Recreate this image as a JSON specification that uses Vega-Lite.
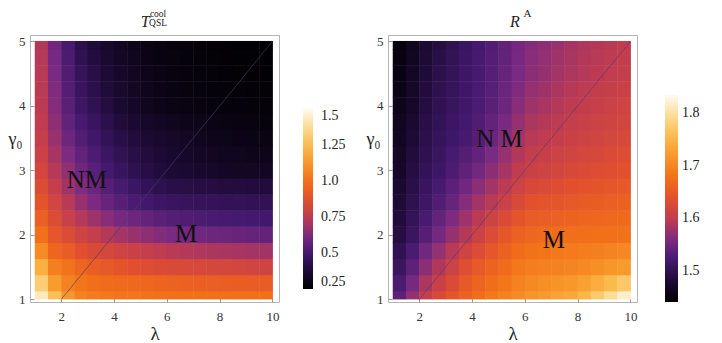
{
  "$schema": "https://vega.github.io/schema/vega-lite/v6.json",
  "background": "white",
  "padding": {"left": 7, "top": 7, "right": 0, "bottom": 0},
  "bounds": "flush",
  "spacing": 109,
  "config": {
    "font": "Liberation Serif",
    "view": {"stroke": "#b4b4b4", "strokeWidth": 1},
    "axis": {"domain": false, "grid": false, "labelFont": "Liberation Serif", "labelFontSize": 13, "labelColor": "#333333", "tickColor": "#9a9a9a", "tickSize": -4, "titleFont": "Liberation Serif", "titleFontWeight": "normal", "titleColor": "#222222"},
    "legend": {"labelFont": "Liberation Serif", "labelFontSize": 14, "labelColor": "#222222", "padding": 0}
  },
  "datasets": {
    "diag": [{"a": 2, "b": 1, "a2": 10, "b2": 5}],
    "ann": [
      {"p": "T", "kind": "region", "t": "NM", "x": 2.97, "y": 2.73},
      {"p": "T", "kind": "region", "t": "M", "x": 6.73, "y": 1.895},
      {"p": "R", "kind": "region", "t": "N M", "x": 5.04, "y": 3.37},
      {"p": "R", "kind": "region", "t": "M", "x": 7.1, "y": 1.79},
      {"p": "T", "kind": "title", "t": "T", "x": 5.18, "y": 5.23},
      {"p": "T", "kind": "script", "t": "cool", "x": 5.67, "y": 5.385},
      {"p": "T", "kind": "script", "t": "QSL", "x": 5.67, "y": 5.24},
      {"p": "R", "kind": "title", "t": "R", "x": 5.63, "y": 5.23},
      {"p": "R", "kind": "scriptA", "t": "A", "x": 6.1, "y": 5.384}
    ],
    "cells": [
      {"p": "T", "g0": 1, "g1": 1.125, "a": [1,1.5,2,2.5,3,3.5,4,4.5,5,5.5,6,6.5,7,7.5,8,8.5,9,9.5], "b": [1.5,2,2.5,3,3.5,4,4.5,5,5.5,6,6.5,7,7.5,8,8.5,9,9.5,10], "v": [1.43,1.27,1.13,1.06,1.035,1.025,1.018,1.013,1.008,1.003,1.0,1.0,1.0,1.0,1.0,1.0,1.0,1.0]},
      {"p": "T", "g0": 1.125, "g1": 1.375, "a": [1,1.5,2,2.5,3,3.5,4,4.5,5,5.5,6,6.5,7,7.5,8,8.5,9,9.5], "b": [1.5,2,2.5,3,3.5,4,4.5,5,5.5,6,6.5,7,7.5,8,8.5,9,9.5,10], "v": [1.32,1.145,1.055,1.015,0.995,0.985,0.978,0.973,0.965,0.955,0.948,0.943,0.938,0.933,0.929,0.926,0.924,0.921]},
      {"p": "T", "g0": 1.375, "g1": 1.625, "a": [1,1.5,2,2.5,3,3.5,4,4.5,5,5.5,6,6.5,7,7.5,8,8.5,9,9.5], "b": [1.5,2,2.5,3,3.5,4,4.5,5,5.5,6,6.5,7,7.5,8,8.5,9,9.5,10], "v": [1.21,1.05,1.01,0.96,0.93,0.91,0.89,0.87,0.855,0.845,0.838,0.833,0.828,0.823,0.818,0.813,0.808,0.803]},
      {"p": "T", "g0": 1.625, "g1": 1.875, "a": [1,1.5,2,2.5,3,3.5,4,4.5,5,5.5,6,6.5,7,7.5,8,8.5,9,9.5], "b": [1.5,2,2.5,3,3.5,4,4.5,5,5.5,6,6.5,7,7.5,8,8.5,9,9.5,10], "v": [1.085,0.96,0.92,0.87,0.84,0.82,0.8,0.78,0.763,0.748,0.736,0.729,0.721,0.714,0.708,0.703,0.698,0.693]},
      {"p": "T", "g0": 1.875, "g1": 2.125, "a": [1,1.5,2,2.5,3,3.5,4,4.5,5,5.5,6,6.5,7,7.5,8,8.5,9,9.5], "b": [1.5,2,2.5,3,3.5,4,4.5,5,5.5,6,6.5,7,7.5,8,8.5,9,9.5,10], "v": [1.0,0.9,0.85,0.8,0.763,0.728,0.7,0.68,0.66,0.64,0.625,0.615,0.605,0.595,0.588,0.583,0.578,0.573]},
      {"p": "T", "g0": 2.125, "g1": 2.375, "a": [1,1.5,2,2.5,3,3.5,4,4.5,5,5.5,6,6.5,7,7.5,8,8.5,9,9.5], "b": [1.5,2,2.5,3,3.5,4,4.5,5,5.5,6,6.5,7,7.5,8,8.5,9,9.5,10], "v": [0.94,0.85,0.78,0.73,0.69,0.65,0.618,0.593,0.57,0.55,0.536,0.529,0.521,0.514,0.508,0.503,0.498,0.493]},
      {"p": "T", "g0": 2.375, "g1": 2.625, "a": [1,1.5,2,2.5,3,3.5,4,4.5,5,5.5,6,6.5,7,7.5,8,8.5,9,9.5], "b": [1.5,2,2.5,3,3.5,4,4.5,5,5.5,6,6.5,7,7.5,8,8.5,9,9.5,10], "v": [0.89,0.81,0.735,0.675,0.628,0.583,0.545,0.515,0.493,0.478,0.468,0.463,0.458,0.453,0.449,0.446,0.444,0.441]},
      {"p": "T", "g0": 2.625, "g1": 2.875, "a": [1,1.5,2,2.5,3,3.5,4,4.5,5,5.5,6,6.5,7,7.5,8,8.5,9,9.5], "b": [1.5,2,2.5,3,3.5,4,4.5,5,5.5,6,6.5,7,7.5,8,8.5,9,9.5,10], "v": [0.85,0.765,0.695,0.635,0.588,0.543,0.505,0.475,0.45,0.43,0.418,0.413,0.408,0.403,0.399,0.396,0.394,0.391]},
      {"p": "T", "g0": 2.875, "g1": 3.125, "a": [1,1.5,2,2.5,3,3.5,4,4.5,5,5.5,6,6.5,7,7.5,8,8.5,9,9.5], "b": [1.5,2,2.5,3,3.5,4,4.5,5,5.5,6,6.5,7,7.5,8,8.5,9,9.5,10], "v": [0.815,0.73,0.665,0.6,0.548,0.503,0.465,0.435,0.41,0.39,0.375,0.365,0.355,0.345,0.339,0.336,0.334,0.331]},
      {"p": "T", "g0": 3.125, "g1": 3.375, "a": [1,1.5,2,2.5,3,3.5,4,4.5,5,5.5,6,6.5,7,7.5,8,8.5,9,9.5], "b": [1.5,2,2.5,3,3.5,4,4.5,5,5.5,6,6.5,7,7.5,8,8.5,9,9.5,10], "v": [0.788,0.703,0.63,0.568,0.519,0.477,0.442,0.414,0.392,0.374,0.36,0.35,0.34,0.33,0.324,0.32,0.316,0.312]},
      {"p": "T", "g0": 3.375, "g1": 3.625, "a": [1,1.5,2,2.5,3,3.5,4,4.5,5,5.5,6,6.5,7,7.5,8,8.5,9,9.5], "b": [1.5,2,2.5,3,3.5,4,4.5,5,5.5,6,6.5,7,7.5,8,8.5,9,9.5,10], "v": [0.765,0.68,0.595,0.535,0.49,0.45,0.418,0.393,0.373,0.358,0.345,0.335,0.325,0.315,0.308,0.303,0.298,0.293]},
      {"p": "T", "g0": 3.625, "g1": 3.875, "a": [1,1.5,2,2.5,3,3.5,4,4.5,5,5.5,6,6.5,7,7.5,8,8.5,9,9.5], "b": [1.5,2,2.5,3,3.5,4,4.5,5,5.5,6,6.5,7,7.5,8,8.5,9,9.5,10], "v": [0.75,0.66,0.568,0.508,0.465,0.425,0.393,0.368,0.348,0.333,0.322,0.314,0.307,0.299,0.294,0.29,0.286,0.282]},
      {"p": "T", "g0": 3.875, "g1": 4.125, "a": [1,1.5,2,2.5,3,3.5,4,4.5,5,5.5,6,6.5,7,7.5,8,8.5,9,9.5], "b": [1.5,2,2.5,3,3.5,4,4.5,5,5.5,6,6.5,7,7.5,8,8.5,9,9.5,10], "v": [0.745,0.645,0.55,0.48,0.44,0.4,0.368,0.343,0.323,0.308,0.298,0.293,0.288,0.283,0.279,0.276,0.274,0.271]},
      {"p": "T", "g0": 4.125, "g1": 4.375, "a": [1,1.5,2,2.5,3,3.5,4,4.5,5,5.5,6,6.5,7,7.5,8,8.5,9,9.5], "b": [1.5,2,2.5,3,3.5,4,4.5,5,5.5,6,6.5,7,7.5,8,8.5,9,9.5,10], "v": [0.74,0.635,0.54,0.468,0.427,0.389,0.359,0.337,0.318,0.303,0.293,0.288,0.283,0.278,0.274,0.271,0.269,0.266]},
      {"p": "T", "g0": 4.375, "g1": 4.625, "a": [1,1.5,2,2.5,3,3.5,4,4.5,5,5.5,6,6.5,7,7.5,8,8.5,9,9.5], "b": [1.5,2,2.5,3,3.5,4,4.5,5,5.5,6,6.5,7,7.5,8,8.5,9,9.5,10], "v": [0.735,0.625,0.53,0.455,0.413,0.378,0.35,0.33,0.313,0.298,0.288,0.283,0.278,0.273,0.269,0.266,0.264,0.261]},
      {"p": "T", "g0": 4.625, "g1": 4.875, "a": [1,1.5,2,2.5,3,3.5,4,4.5,5,5.5,6,6.5,7,7.5,8,8.5,9,9.5], "b": [1.5,2,2.5,3,3.5,4,4.5,5,5.5,6,6.5,7,7.5,8,8.5,9,9.5,10], "v": [0.73,0.615,0.52,0.44,0.399,0.367,0.34,0.32,0.304,0.292,0.284,0.278,0.273,0.268,0.264,0.261,0.259,0.256]},
      {"p": "T", "g0": 4.875, "g1": 5, "a": [1,1.5,2,2.5,3,3.5,4,4.5,5,5.5,6,6.5,7,7.5,8,8.5,9,9.5], "b": [1.5,2,2.5,3,3.5,4,4.5,5,5.5,6,6.5,7,7.5,8,8.5,9,9.5,10], "v": [0.725,0.605,0.51,0.425,0.385,0.355,0.33,0.31,0.295,0.285,0.278,0.273,0.268,0.263,0.259,0.256,0.254,0.251]},
      {"p": "R", "g0": 1, "g1": 1.125, "a": [1,1.5,2,2.5,3,3.5,4,4.5,5,5.5,6,6.5,7,7.5,8,8.5,9,9.5], "b": [1.5,2,2.5,3,3.5,4,4.5,5,5.5,6,6.5,7,7.5,8,8.5,9,9.5,10], "v": [1.538,1.573,1.603,1.625,1.644,1.661,1.675,1.685,1.695,1.705,1.714,1.721,1.729,1.736,1.751,1.774,1.796,1.819]},
      {"p": "R", "g0": 1.125, "g1": 1.375, "a": [1,1.5,2,2.5,3,3.5,4,4.5,5,5.5,6,6.5,7,7.5,8,8.5,9,9.5], "b": [1.5,2,2.5,3,3.5,4,4.5,5,5.5,6,6.5,7,7.5,8,8.5,9,9.5,10], "v": [1.524,1.556,1.586,1.608,1.628,1.648,1.663,1.673,1.683,1.695,1.703,1.708,1.713,1.718,1.727,1.742,1.756,1.771]},
      {"p": "R", "g0": 1.375, "g1": 1.625, "a": [1,1.5,2,2.5,3,3.5,4,4.5,5,5.5,6,6.5,7,7.5,8,8.5,9,9.5], "b": [1.5,2,2.5,3,3.5,4,4.5,5,5.5,6,6.5,7,7.5,8,8.5,9,9.5,10], "v": [1.51,1.538,1.568,1.59,1.611,1.634,1.65,1.66,1.671,1.684,1.691,1.694,1.696,1.699,1.703,1.709,1.716,1.722]},
      {"p": "R", "g0": 1.625, "g1": 1.875, "a": [1,1.5,2,2.5,3,3.5,4,4.5,5,5.5,6,6.5,7,7.5,8,8.5,9,9.5], "b": [1.5,2,2.5,3,3.5,4,4.5,5,5.5,6,6.5,7,7.5,8,8.5,9,9.5,10], "v": [1.5,1.524,1.551,1.573,1.593,1.613,1.63,1.645,1.659,1.672,1.679,1.682,1.684,1.687,1.69,1.693,1.697,1.701]},
      {"p": "R", "g0": 1.875, "g1": 2.125, "a": [1,1.5,2,2.5,3,3.5,4,4.5,5,5.5,6,6.5,7,7.5,8,8.5,9,9.5], "b": [1.5,2,2.5,3,3.5,4,4.5,5,5.5,6,6.5,7,7.5,8,8.5,9,9.5,10], "v": [1.49,1.51,1.533,1.555,1.574,1.591,1.61,1.63,1.646,1.659,1.666,1.669,1.671,1.674,1.676,1.677,1.678,1.679]},
      {"p": "R", "g0": 2.125, "g1": 2.375, "a": [1,1.5,2,2.5,3,3.5,4,4.5,5,5.5,6,6.5,7,7.5,8,8.5,9,9.5], "b": [1.5,2,2.5,3,3.5,4,4.5,5,5.5,6,6.5,7,7.5,8,8.5,9,9.5,10], "v": [1.486,1.504,1.523,1.542,1.56,1.578,1.596,1.612,1.628,1.643,1.652,1.655,1.658,1.661,1.664,1.666,1.667,1.669]},
      {"p": "R", "g0": 2.375, "g1": 2.625, "a": [1,1.5,2,2.5,3,3.5,4,4.5,5,5.5,6,6.5,7,7.5,8,8.5,9,9.5], "b": [1.5,2,2.5,3,3.5,4,4.5,5,5.5,6,6.5,7,7.5,8,8.5,9,9.5,10], "v": [1.481,1.498,1.513,1.528,1.545,1.565,1.581,1.594,1.609,1.626,1.637,1.641,1.644,1.648,1.651,1.654,1.656,1.659]},
      {"p": "R", "g0": 2.625, "g1": 2.875, "a": [1,1.5,2,2.5,3,3.5,4,4.5,5,5.5,6,6.5,7,7.5,8,8.5,9,9.5], "b": [1.5,2,2.5,3,3.5,4,4.5,5,5.5,6,6.5,7,7.5,8,8.5,9,9.5,10], "v": [1.477,1.494,1.508,1.521,1.536,1.552,1.567,1.581,1.596,1.612,1.623,1.627,1.631,1.636,1.639,1.643,1.645,1.649]},
      {"p": "R", "g0": 2.875, "g1": 3.125, "a": [1,1.5,2,2.5,3,3.5,4,4.5,5,5.5,6,6.5,7,7.5,8,8.5,9,9.5], "b": [1.5,2,2.5,3,3.5,4,4.5,5,5.5,6,6.5,7,7.5,8,8.5,9,9.5,10], "v": [1.473,1.49,1.503,1.513,1.526,1.539,1.553,1.568,1.583,1.598,1.608,1.613,1.618,1.623,1.627,1.631,1.634,1.638]},
      {"p": "R", "g0": 3.125, "g1": 3.375, "a": [1,1.5,2,2.5,3,3.5,4,4.5,5,5.5,6,6.5,7,7.5,8,8.5,9,9.5], "b": [1.5,2,2.5,3,3.5,4,4.5,5,5.5,6,6.5,7,7.5,8,8.5,9,9.5,10], "v": [1.469,1.486,1.499,1.51,1.521,1.531,1.543,1.558,1.574,1.59,1.601,1.606,1.611,1.616,1.62,1.624,1.627,1.631]},
      {"p": "R", "g0": 3.375, "g1": 3.625, "a": [1,1.5,2,2.5,3,3.5,4,4.5,5,5.5,6,6.5,7,7.5,8,8.5,9,9.5], "b": [1.5,2,2.5,3,3.5,4,4.5,5,5.5,6,6.5,7,7.5,8,8.5,9,9.5,10], "v": [1.465,1.481,1.495,1.506,1.515,1.522,1.533,1.548,1.564,1.581,1.593,1.598,1.603,1.608,1.612,1.616,1.619,1.623]},
      {"p": "R", "g0": 3.625, "g1": 3.875, "a": [1,1.5,2,2.5,3,3.5,4,4.5,5,5.5,6,6.5,7,7.5,8,8.5,9,9.5], "b": [1.5,2,2.5,3,3.5,4,4.5,5,5.5,6,6.5,7,7.5,8,8.5,9,9.5,10], "v": [1.462,1.477,1.492,1.503,1.512,1.519,1.529,1.542,1.557,1.574,1.586,1.591,1.597,1.603,1.607,1.611,1.614,1.618]},
      {"p": "R", "g0": 3.875, "g1": 4.125, "a": [1,1.5,2,2.5,3,3.5,4,4.5,5,5.5,6,6.5,7,7.5,8,8.5,9,9.5], "b": [1.5,2,2.5,3,3.5,4,4.5,5,5.5,6,6.5,7,7.5,8,8.5,9,9.5,10], "v": [1.458,1.473,1.488,1.5,1.509,1.516,1.525,1.535,1.549,1.566,1.578,1.584,1.591,1.597,1.602,1.606,1.609,1.613]},
      {"p": "R", "g0": 4.125, "g1": 4.375, "a": [1,1.5,2,2.5,3,3.5,4,4.5,5,5.5,6,6.5,7,7.5,8,8.5,9,9.5], "b": [1.5,2,2.5,3,3.5,4,4.5,5,5.5,6,6.5,7,7.5,8,8.5,9,9.5,10], "v": [1.456,1.471,1.486,1.498,1.507,1.515,1.524,1.534,1.547,1.562,1.573,1.579,1.586,1.592,1.597,1.601,1.604,1.608]},
      {"p": "R", "g0": 4.375, "g1": 4.625, "a": [1,1.5,2,2.5,3,3.5,4,4.5,5,5.5,6,6.5,7,7.5,8,8.5,9,9.5], "b": [1.5,2,2.5,3,3.5,4,4.5,5,5.5,6,6.5,7,7.5,8,8.5,9,9.5,10], "v": [1.453,1.468,1.483,1.495,1.504,1.513,1.522,1.532,1.544,1.558,1.568,1.574,1.581,1.587,1.592,1.596,1.599,1.603]},
      {"p": "R", "g0": 4.625, "g1": 4.875, "a": [1,1.5,2,2.5,3,3.5,4,4.5,5,5.5,6,6.5,7,7.5,8,8.5,9,9.5], "b": [1.5,2,2.5,3,3.5,4,4.5,5,5.5,6,6.5,7,7.5,8,8.5,9,9.5,10], "v": [1.451,1.466,1.481,1.493,1.502,1.512,1.521,1.531,1.543,1.556,1.566,1.572,1.579,1.585,1.59,1.594,1.597,1.601]},
      {"p": "R", "g0": 4.875, "g1": 5, "a": [1,1.5,2,2.5,3,3.5,4,4.5,5,5.5,6,6.5,7,7.5,8,8.5,9,9.5], "b": [1.5,2,2.5,3,3.5,4,4.5,5,5.5,6,6.5,7,7.5,8,8.5,9,9.5,10], "v": [1.448,1.463,1.478,1.49,1.5,1.51,1.52,1.53,1.541,1.554,1.563,1.569,1.576,1.582,1.587,1.591,1.594,1.598]}
    ]
  },
  "resolve": {"scale": {"color": "independent", "x": "independent", "y": "independent"}, "legend": {"color": "independent"}},
  "hconcat": [
    {
      "width": 249,
      "height": 267,
      "layer": [
        {
          "data": {"name": "cells"},
          "transform": [{"filter": "datum.p === 'T'"}, {"flatten": ["a", "b", "v"]}],
          "mark": {"type": "rect", "x2Offset": 0.5, "y2Offset": -0.5},
          "encoding": {
            "x": {"field": "a", "type": "quantitative", "scale": {"domain": [0.82, 10.25], "nice": false, "zero": false}, "axis": {"values": [2, 4, 6, 8, 10], "format": "d", "title": "λ", "titleFontSize": 19, "titleBaseline": "alphabetic", "titleY": 37, "labelPadding": 12, "labelFont": "Liberation Serif"}},
            "x2": {"field": "b"},
            "y": {"field": "g0", "type": "quantitative", "scale": {"domain": [0.96, 5.1], "nice": false, "zero": false}, "axis": {"values": [1, 2, 3, 4, 5], "format": "d", "title": "γ₀", "titleFontSize": 18, "titleAngle": 0, "titleAlign": "center", "titleBaseline": "middle", "titleX": -15, "titleY": 104, "labelPadding": 9, "labelFont": "Liberation Serif"}},
            "y2": {"field": "g1"},
            "color": {"field": "v", "type": "quantitative", "scale": {"domain": [0.25, 0.375, 0.5, 0.625, 0.75, 0.875, 1.0, 1.125, 1.25, 1.375, 1.5], "range": ["#000000", "#1c0a34", "#43196e", "#7a2a82", "#c03c50", "#e2502e", "#f27018", "#f8962a", "#fbbb4c", "#fddc96", "#fffaf0"], "interpolate": "rgb"}, "legend": {"type": "gradient", "orient": "none", "legendX": 273, "legendY": 74, "direction": "vertical", "title": null, "gradientLength": 180, "gradientThickness": 10, "gradientStrokeWidth": 0, "labelOffset": 8, "labelFont": "Liberation Serif", "values": [0.25, 0.5, 0.75, 1.0, 1.25, 1.5], "labelExpr": "datum.value === 1 ? '1.0' : format(datum.value, '~g')"}}
          }
        },
        {
          "data": {"name": "diag"},
          "mark": {"type": "rule", "color": "#4b3a66", "strokeWidth": 0.8, "opacity": 0.8},
          "encoding": {
            "x": {"field": "a", "type": "quantitative", "scale": {"domain": [0.82, 10.25], "nice": false, "zero": false}},
            "y": {"field": "b", "type": "quantitative", "scale": {"domain": [0.96, 5.1], "nice": false, "zero": false}},
            "x2": {"field": "a2"},
            "y2": {"field": "b2"}
          }
        },
        {
          "data": {"name": "ann"},
          "transform": [{"filter": "datum.p === 'T' && datum.kind === 'region'"}],
          "mark": {"type": "text", "font": "Liberation Serif", "fontSize": 25, "align": "center", "baseline": "alphabetic", "color": "#111111", "clip": false},
          "encoding": {
            "x": {"field": "x", "type": "quantitative", "scale": {"domain": [0.82, 10.25], "nice": false, "zero": false}},
            "y": {"field": "y", "type": "quantitative", "scale": {"domain": [0.96, 5.1], "nice": false, "zero": false}},
            "text": {"field": "t"}
          }
        },
        {
          "data": {"name": "ann"},
          "transform": [{"filter": "datum.p === 'T' && datum.kind === 'title'"}],
          "mark": {"type": "text", "font": "Liberation Serif", "fontSize": 16, "fontStyle": "italic", "align": "center", "baseline": "alphabetic", "color": "#222222", "clip": false},
          "encoding": {
            "x": {"field": "x", "type": "quantitative", "scale": {"domain": [0.82, 10.25], "nice": false, "zero": false}},
            "y": {"field": "y", "type": "quantitative", "scale": {"domain": [0.96, 5.1], "nice": false, "zero": false}},
            "text": {"field": "t"}
          }
        },
        {
          "data": {"name": "ann"},
          "transform": [{"filter": "datum.p === 'T' && datum.kind === 'script'"}],
          "mark": {"type": "text", "font": "Liberation Serif", "fontSize": 9.5, "align": "center", "baseline": "alphabetic", "color": "#222222", "clip": false},
          "encoding": {
            "x": {"field": "x", "type": "quantitative", "scale": {"domain": [0.82, 10.25], "nice": false, "zero": false}},
            "y": {"field": "y", "type": "quantitative", "scale": {"domain": [0.96, 5.1], "nice": false, "zero": false}},
            "text": {"field": "t"}
          }
        }
      ]
    },
    {
      "width": 249,
      "height": 267,
      "layer": [
        {
          "data": {"name": "cells"},
          "transform": [{"filter": "datum.p === 'R'"}, {"flatten": ["a", "b", "v"]}],
          "mark": {"type": "rect", "x2Offset": 0.5, "y2Offset": -0.5},
          "encoding": {
            "x": {"field": "a", "type": "quantitative", "scale": {"domain": [0.82, 10.25], "nice": false, "zero": false}, "axis": {"values": [2, 4, 6, 8, 10], "format": "d", "title": "λ", "titleFontSize": 19, "titleBaseline": "alphabetic", "titleY": 37, "labelPadding": 12, "labelFont": "Liberation Serif"}},
            "x2": {"field": "b"},
            "y": {"field": "g0", "type": "quantitative", "scale": {"domain": [0.96, 5.1], "nice": false, "zero": false}, "axis": {"values": [1, 2, 3, 4, 5], "format": "d", "title": "γ₀", "titleFontSize": 18, "titleAngle": 0, "titleAlign": "center", "titleBaseline": "middle", "titleX": -15, "titleY": 104, "labelPadding": 9, "labelFont": "Liberation Serif"}},
            "y2": {"field": "g1"},
            "color": {"field": "v", "type": "quantitative", "scale": {"domain": [1.44, 1.4795, 1.519, 1.5585, 1.598, 1.6375, 1.677, 1.7165, 1.756, 1.7955, 1.835], "range": ["#000000", "#1c0a34", "#43196e", "#7a2a82", "#c03c50", "#e2502e", "#f27018", "#f8962a", "#fbbb4c", "#fddc96", "#fffaf0"], "interpolate": "rgb"}, "legend": {"type": "gradient", "orient": "none", "legendX": 277, "legendY": 60, "direction": "vertical", "title": null, "gradientLength": 207, "gradientThickness": 13, "gradientStrokeWidth": 0, "labelOffset": 4, "labelFont": "Liberation Serif", "values": [1.5, 1.6, 1.7, 1.8], "format": ".1f"}}
          }
        },
        {
          "data": {"name": "diag"},
          "mark": {"type": "rule", "color": "#5a3a6e", "strokeWidth": 0.8, "opacity": 0.8},
          "encoding": {
            "x": {"field": "a", "type": "quantitative", "scale": {"domain": [0.82, 10.25], "nice": false, "zero": false}},
            "y": {"field": "b", "type": "quantitative", "scale": {"domain": [0.96, 5.1], "nice": false, "zero": false}},
            "x2": {"field": "a2"},
            "y2": {"field": "b2"}
          }
        },
        {
          "data": {"name": "ann"},
          "transform": [{"filter": "datum.p === 'R' && datum.kind === 'region'"}],
          "mark": {"type": "text", "font": "Liberation Serif", "fontSize": 25, "align": "center", "baseline": "alphabetic", "color": "#111111", "clip": false},
          "encoding": {
            "x": {"field": "x", "type": "quantitative", "scale": {"domain": [0.82, 10.25], "nice": false, "zero": false}},
            "y": {"field": "y", "type": "quantitative", "scale": {"domain": [0.96, 5.1], "nice": false, "zero": false}},
            "text": {"field": "t"}
          }
        },
        {
          "data": {"name": "ann"},
          "transform": [{"filter": "datum.p === 'R' && datum.kind === 'title'"}],
          "mark": {"type": "text", "font": "Liberation Serif", "fontSize": 16, "fontStyle": "italic", "align": "center", "baseline": "alphabetic", "color": "#222222", "clip": false},
          "encoding": {
            "x": {"field": "x", "type": "quantitative", "scale": {"domain": [0.82, 10.25], "nice": false, "zero": false}},
            "y": {"field": "y", "type": "quantitative", "scale": {"domain": [0.96, 5.1], "nice": false, "zero": false}},
            "text": {"field": "t"}
          }
        },
        {
          "data": {"name": "ann"},
          "transform": [{"filter": "datum.p === 'R' && datum.kind === 'scriptA'"}],
          "mark": {"type": "text", "font": "Liberation Serif", "fontSize": 11, "align": "center", "baseline": "alphabetic", "color": "#222222", "clip": false},
          "encoding": {
            "x": {"field": "x", "type": "quantitative", "scale": {"domain": [0.82, 10.25], "nice": false, "zero": false}},
            "y": {"field": "y", "type": "quantitative", "scale": {"domain": [0.96, 5.1], "nice": false, "zero": false}},
            "text": {"field": "t"}
          }
        }
      ]
    }
  ]
}
